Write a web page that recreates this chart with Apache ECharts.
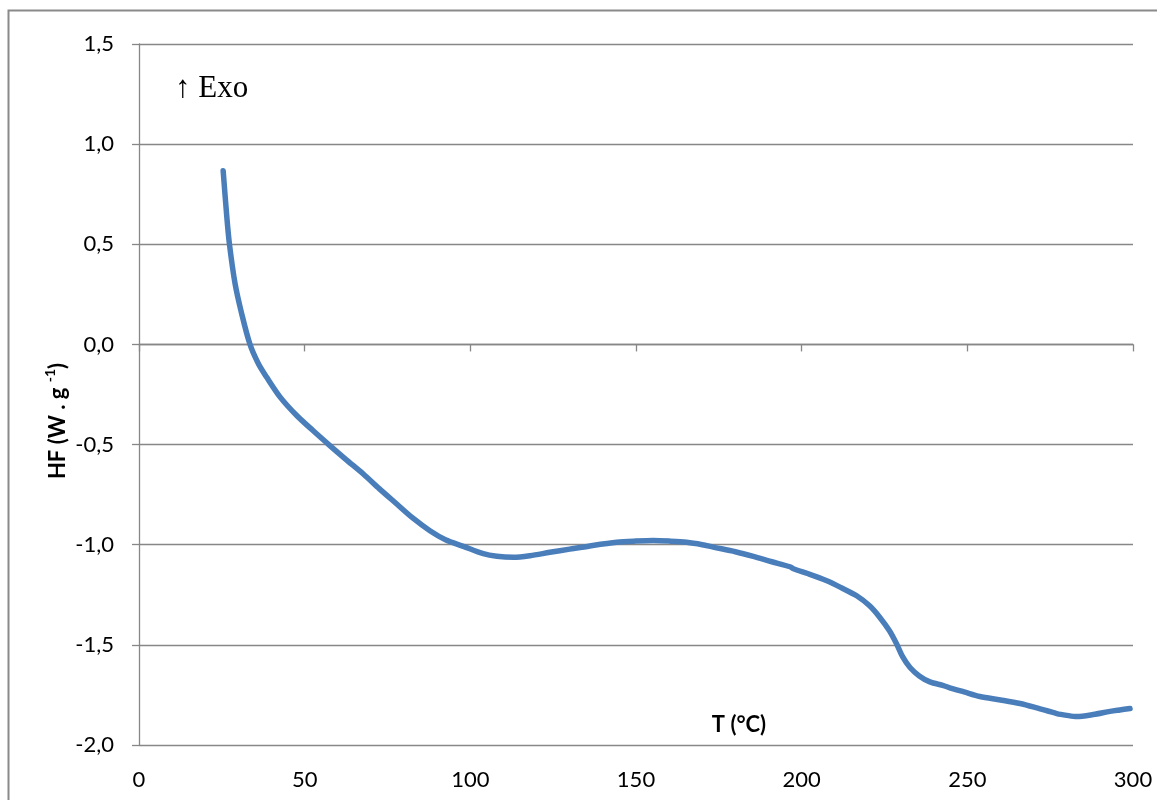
<!DOCTYPE html>
<html>
<head>
<meta charset="utf-8">
<script src="https://cdn.jsdelivr.net/npm/echarts@6/dist/echarts.min.js"></script>
<style>
html,body{margin:0;padding:0;background:#fff;}
#chart{width:1157px;height:800px;}
</style>
</head>
<body>
<div id="chart"></div>
<script>
// Temperature (°C)
const temps = [25.4, 26.5, 27.3, 29.0, 31.0, 33.5, 36.0, 38.5, 42.6, 47.6, 52.5, 57.6, 62.5, 67.7, 72.5, 77.8, 82.5, 87.8, 92.5, 97.9,
  103.9, 108, 113, 118, 124, 130, 136.1, 144.2, 150, 155.2, 160, 165.3, 170, 173.3, 180, 185.4, 191, 196.5, 197.5, 202,
  207.6, 212, 216.6, 220.5, 223.6, 226.5, 228.7, 230.5, 232.7, 235.5, 238.7, 242.8, 244.3, 249, 253.8, 260, 265.9, 271, 277, 280,
  283, 288, 293.1, 296, 299.1];
// Heat flow (W/g)
const heatFlow = [0.867, 0.637, 0.50, 0.303, 0.153, 0.0, -0.095, -0.163, -0.263, -0.355, -0.43, -0.505, -0.575, -0.647, -0.72, -0.797, -0.865, -0.93, -0.975, -1.008,
  -1.045, -1.058, -1.063, -1.055, -1.038, -1.022, -1.006, -0.988, -0.982, -0.979, -0.982, -0.988, -1.0, -1.012, -1.035, -1.058, -1.085, -1.11, -1.12, -1.145,
  -1.18, -1.215, -1.255, -1.305, -1.363, -1.43, -1.497, -1.56, -1.613, -1.655, -1.685, -1.703, -1.712, -1.735, -1.758, -1.775, -1.793, -1.815, -1.843, -1.852,
  -1.858, -1.848, -1.832, -1.825, -1.818];
const xTicks = [0, 50, 100, 150, 200, 250, 300];
const yTicks = [-2.0, -1.5, -1.0, -0.5, 0.0, 0.5, 1.0, 1.5];
const xAxisTitle = 'T (°C)';
const exoLabel = '↑ Exo';

const seriesData = temps.map((t, i) => [t, heatFlow[i]]);
const gray = '#878787';
const labelFont = 'Lato, "Open Sans", sans-serif';

const chart = echarts.init(document.getElementById('chart'), null, {renderer: 'canvas'});
chart.setOption({
  animation: false,
  backgroundColor: '#fff',
  grid: {left: 139, right: 24, top: 44, bottom: 55, containLabel: false},
  xAxis: [
    {
      type: 'value', position: 'bottom',
      min: xTicks[0], max: xTicks[xTicks.length - 1], interval: 50,
      axisLine: {show: false, onZero: false},
      axisTick: {show: false},
      splitLine: {show: false},
      axisLabel: {margin: 24, fontSize: 22, color: '#000', fontFamily: labelFont,
        formatter: v => xTicks.includes(v) ? String(v) : ''}
    },
    {
      type: 'value', position: 'top',
      min: xTicks[0], max: xTicks[xTicks.length - 1], interval: 50,
      axisLine: {show: true, onZero: true, lineStyle: {color: gray, width: 1.3}},
      axisTick: {show: true, inside: true, length: 7, lineStyle: {color: gray, width: 1.3}},
      splitLine: {show: false},
      axisLabel: {show: false}
    }
  ],
  yAxis: {
    type: 'value',
    min: yTicks[0], max: yTicks[yTicks.length - 1], interval: 0.5,
    axisLine: {show: true, lineStyle: {color: gray, width: 1.3}},
    axisTick: {show: true, length: 7, lineStyle: {color: gray, width: 1.3}},
    splitLine: {show: true, lineStyle: {color: gray, width: 1.3}},
    axisLabel: {margin: 25, fontSize: 22, color: '#000', fontFamily: labelFont,
      formatter: v => v.toFixed(1).replace('.', ',')}
  },
  series: [{
    type: 'line',
    xAxisIndex: 0,
    data: seriesData,
    smooth: 0.3,
    showSymbol: false,
    lineStyle: {color: '#4a7ebb', width: 5.5, cap: 'round', join: 'round'},
    itemStyle: {color: '#4a7ebb'}
  }],
  graphic: [
    {type: 'rect', shape: {x: 8.5, y: 10.5, width: 1200, height: 900},
      style: {fill: 'none', stroke: '#8a8a8a', lineWidth: 2}, silent: true, z: 100},
    {type: 'text', left: 175, top: 73,
      style: {text: exoLabel, font: '31px "Liberation Serif", "DejaVu Serif", serif', fill: '#000'}},
    {type: 'text', x: 739, y: 725,
      style: {text: xAxisTitle, font: 'bold 22px ' + labelFont, fill: '#000', align: 'center', verticalAlign: 'middle'}},
    {type: 'text', x: 56, y: 421, rotation: Math.PI / 2,
      style: {
        text: '{a|HF (W . g }{s|-1}{a|)}',
        align: 'center', verticalAlign: 'middle',
        rich: {
          a: {font: 'bold 22px ' + labelFont, fill: '#000', lineHeight: 26, verticalAlign: 'bottom'},
          s: {font: 'bold 14px ' + labelFont, fill: '#000', lineHeight: 26, verticalAlign: 'top'}
        }
      }}
  ]
});
</script>
</body>
</html>
